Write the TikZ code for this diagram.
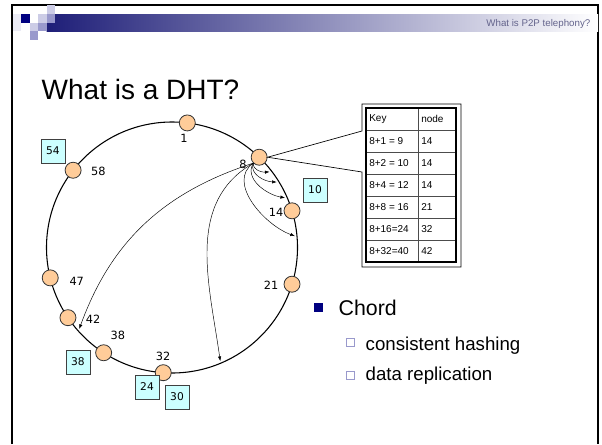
\documentclass[tikz,border=0pt]{standalone}
\usepackage{fontspec}
\setmainfont{Liberation Sans}
\newfontfamily\numfont{DejaVu Sans}
\usetikzlibrary{arrows.meta,positioning}
\definecolor{slidenavy}{RGB}{0,0,128}
\definecolor{barnavy}{RGB}{30,30,120}
\definecolor{lightlav}{RGB}{204,204,230}
\definecolor{midlav}{RGB}{153,153,204}
\definecolor{peach}{RGB}{255,204,153}
\definecolor{palecyan}{RGB}{204,255,255}
\definecolor{headgray}{RGB}{100,100,140}
\begin{document}
\begin{tikzpicture}[x=0.75pt,y=0.75pt,
		peer/.style={circle,draw=black!80,fill=peach,line width=0.6pt,minimum size=12pt,inner sep=0pt},
		peerlbl/.style={font=\numfont\fontsize{8.5}{9}\selectfont,inner sep=0pt},
		keybox/.style={draw=black!75,fill=palecyan,line width=0.6pt,minimum size=18pt,inner sep=0pt,font=\numfont\fontsize{8}{8}\selectfont},
		finger/.style={line width=0.35pt,-{Latex[length=3.5pt,width=2.5pt]}},
		cell/.style={anchor=west,font=\fontsize{7.5}{8}\selectfont,inner sep=0pt}]
	\useasboundingbox (0,0) rectangle (602,444);
	
	% Slide frame and header
	\draw[line width=1.5pt] (12,0) -- (12,439) -- (598,439) -- (598,0);
	\shade[left color=barnavy,right color=white] (46.5,413) rectangle (598,430);
	\foreach \c/\r/\col in {0/1/lightlav!40,0/2/lightlav!40,1/1/slidenavy,3/1/lightlav,4/0/lightlav,4/1/midlav,2/2/lightlav,3/2/midlav,2/3/midlav}{
		\fill[\col] (12.5+8.5*\c,438.5-8.5*\r) rectangle ++(8.5,-8.5);
	}
	\node[anchor=east,text=headgray,font=\fontsize{7.3}{9}\selectfont] (topic) at (595,420) {What is P2P telephony?};
	\node[anchor=base west,font=\fontsize{21}{25}\selectfont] (title) at (37,345) {What is a DHT?};
	
	% Ring
	\coordinate (ring) at (172,196.5);
	\draw[line width=0.8pt] (ring) circle (125.5);
	
	% Peers
	\foreach \id/\ang/\la/\lr in {1/83/83.7/110, 8/46/49.6/109.6, 14/17/18.8/110, 21/-17/-20.7/106, 32/-94/-94.7/109, 38/-123/-121.7/103, 42/-146/-137.5/107, 47/-166/-160.6/101, 58/142/134/106}{
		\node[peer] (n\id) at ([shift={(ring)}]\ang:125.5) {};
		\node[peerlbl] (l\id) at ([shift={(ring)}]\la:\lr) {\id};
	}
	
	% Keys
	\node[keybox] (k54) at (53,293) {54};
	\node[keybox] (k10) at (315,254) {10};
	\node[keybox] (k38) at (78,82) {38};
	\node[keybox] (k24) at (147,57) {24};
	\node[keybox] (k30) at (177,47) {30};
	
	% Fingers of 8
	\foreach \t/\a in {9/37.8,10/32,12/23.7,16/5.3,24/-67,40/-138.7}
		\coordinate (f\t) at ([shift={(ring)}]\a:123.5);
	\draw[finger] (n8.225) to[out=-95,in=185] (f9);
	\draw[finger] (n8.225) to[out=-110,in=178] (f10);
	\draw[finger] (n8.225) to[out=-120,in=170] (f12);
	\draw[finger] (n8.225) to[out=215,in=160] (f16);
	\draw[finger] (n8.225) to[out=210,in=98] (f24);
	\draw[finger] (n8.225) to[out=198,in=70] (f40);
	
	% Finger table
	\draw[fill=white,line width=0.5pt] (n8.east) -- (362,313) -- (362,340) -- (461,340) -- (461,177) -- (362,177) -- (362,272) -- cycle;
	\foreach \i in {1,...,6}
		\draw[black!70,line width=0.5pt] (366,336-22*\i) -- (456,336-22*\i);
	\draw[black!70,line width=0.5pt] (418,336) -- (418,182);
	\draw[line width=1pt] (366,336) rectangle (456,182);
	\foreach \k/\v [count=\i from 0] in {Key/node,8+1 = 9/14,8+2 = 10/14,8+4 = 12/14,8+8 = 16/21,8+16=24/32,8+32=40/42}{
		\node[cell] (key\i) at (369,325-22*\i) {\k};
		\node[cell] (succ\i) at (421,325-22*\i) {\v};
	}
	
	% Bullets
	\fill[slidenavy] (313.5,132.5) rectangle (322.5,141.5);
	\node[anchor=base west,font=\fontsize{16}{19}\selectfont] (chord) at (334,129) {Chord};
	\draw[midlav,line width=0.6pt] (346,98) rectangle (354,106);
	\node[anchor=base west,font=\fontsize{14}{17}\selectfont] (hashing) at (361,94) {consistent hashing};
	\draw[midlav,line width=0.6pt] (346,65) rectangle (354,73);
	\node[anchor=base west,font=\fontsize{14}{17}\selectfont] (replica) at (361,64) {data replication};
\end{tikzpicture}
\end{document}
